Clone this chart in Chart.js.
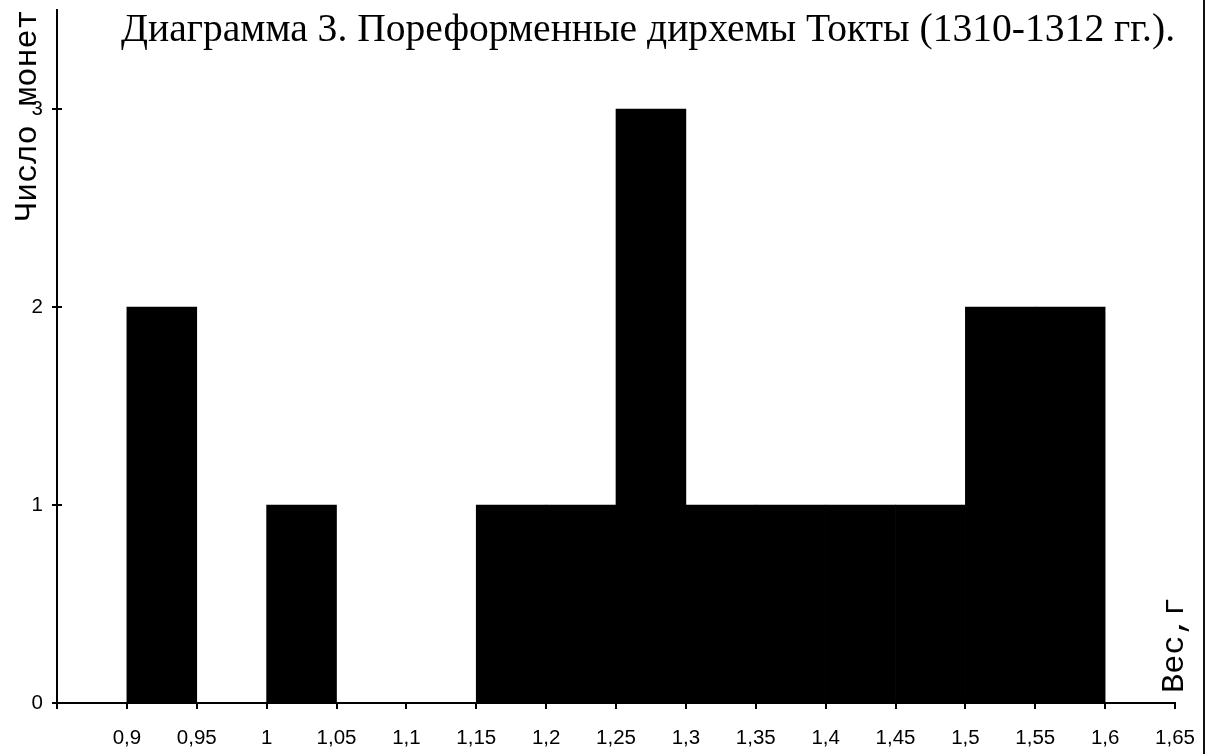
<!DOCTYPE html>
<html lang="ru">
<head>
<meta charset="utf-8">
<title>Диаграмма 3</title>
<script src="https://cdn.jsdelivr.net/npm/chart.js@4.4.1/dist/chart.umd.min.js"></script>
<style>
    html, body { margin: 0; padding: 0; background: #fff; }
    #wrap { position: relative; width: 1214px; height: 754px; }
    #frame { position: absolute; top: 0; bottom: 0; right: 9px; border-right: 2px solid #111; }
</style>
</head>
<body>
<div id="wrap">
    <canvas id="histChart" width="1214" height="754"></canvas>
    <div id="frame"></div>
</div>
<script>
// Histogram: coins by weight, bins of 0.05 g
const chartTitle = 'Диаграмма 3. Пореформенные дирхемы Токты (1310-1312 гг.).';
const yCaption = 'Число монет';
const xCaption = 'Вес,г';
const binWidth = 0.05;
const binStarts = [0.9, 0.95, 1.0, 1.05, 1.1, 1.15, 1.2, 1.25, 1.3, 1.35, 1.4, 1.45, 1.5, 1.55];
const coinCounts = [2, 0, 1, 0, 0, 1, 1, 3, 1, 1, 1, 1, 2, 2];
const yTicks = [0, 1, 2, 3];

const points = binStarts.map((s, i) => ({ x: s + binWidth / 2, y: coinCounts[i] }));

function commaNum(v) {
    return String(Number(v.toFixed(2))).replace('.', ',');
}

// captions and the inner half of the y tick marks
const captions = {
    id: 'captions',
    afterDraw(chart) {
        const ctx = chart.ctx;
        const area = chart.chartArea;
        const yScale = chart.scales.y;
        ctx.save();
        ctx.fillStyle = '#000';

        ctx.strokeStyle = '#000';
        ctx.lineWidth = 2;
        yTicks.forEach(t => {
            const py = yScale.getPixelForValue(t);
            ctx.beginPath();
            ctx.moveTo(area.left, py);
            ctx.lineTo(area.left + 5, py);
            ctx.stroke();
        });

        ctx.font = '39.6px "Liberation Serif", "Times New Roman", serif';
        ctx.textAlign = 'left';
        ctx.textBaseline = 'alphabetic';
        ctx.fillText(chartTitle, area.left + 64, area.top + 31);

        ctx.font = '32px "Liberation Mono", "Courier New", monospace';
        ctx.save();
        ctx.translate(area.left - 21, area.top);
        ctx.rotate(-Math.PI / 2);
        ctx.textAlign = 'right';
        ctx.fillText(yCaption, 0, 0);
        ctx.restore();

        ctx.save();
        ctx.translate(area.right + 8, area.bottom - 10);
        ctx.rotate(-Math.PI / 2);
        ctx.textAlign = 'left';
        ctx.fillText(xCaption, 0, 0);
        ctx.restore();

        ctx.restore();
    }
};

new Chart(document.getElementById('histChart'), {
    type: 'bar',
    data: {
        datasets: [{
            label: yCaption,
            data: points,
            backgroundColor: '#000',
            borderWidth: 0,
            barPercentage: 1,
            categoryPercentage: 1
        }]
    },
    options: {
        responsive: false,
        animation: false,
        layout: { padding: { top: 10, right: 39, left: 0, bottom: 0 } },
        plugins: {
            legend: { display: false },
            title: { display: false },
            tooltip: { enabled: false }
        },
        scales: {
            x: {
                type: 'linear',
                offset: false,
                min: 0.85,
                max: 1.65,
                afterFit: function(scale) { scale.height = 51; },
                afterBuildTicks: function(scale) {
                    const ticks = [];
                    for (let i = 0; i <= 16; i++) {
                        ticks.push({ value: Number((0.85 + i * binWidth).toFixed(2)) });
                    }
                    scale.ticks = ticks;
                },
                grid: {
                    display: true,
                    drawOnChartArea: false,
                    offset: false,
                    tickLength: 6,
                    color: '#000',
                    lineWidth: 2
                },
                border: { display: true, color: '#000', width: 2 },
                ticks: {
                    autoSkip: false,
                    maxRotation: 0,
                    padding: 17,
                    color: '#000',
                    font: { family: '"Liberation Sans", Arial, sans-serif', size: 20.5 },
                    callback: function(v) { return v < 0.89 ? '' : commaNum(v); }
                }
            },
            y: {
                min: 0,
                max: 3.5,
                afterFit: function(scale) {
                    scale.width = 57;
                    scale.paddingTop = 0;
                    scale.paddingBottom = 0;
                },
                afterBuildTicks: function(scale) {
                    scale.ticks = yTicks.map(v => ({ value: v }));
                },
                grid: {
                    display: true,
                    drawOnChartArea: false,
                    tickLength: 5,
                    color: '#000',
                    lineWidth: 2
                },
                border: { display: true, color: '#000', width: 2 },
                ticks: {
                    padding: 9,
                    color: '#000',
                    font: { family: '"Liberation Sans", Arial, sans-serif', size: 20.5 }
                }
            }
        }
    },
    plugins: [captions]
});
</script>
</body>
</html>
